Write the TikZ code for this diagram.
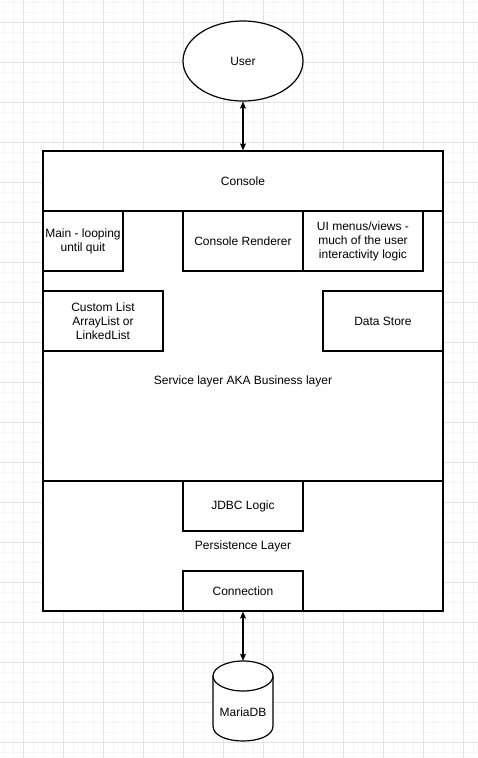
\documentclass[tikz,border=0pt]{standalone}
\usepackage{fontspec}
\setmainfont{Liberation Sans}
\usetikzlibrary{arrows.meta,shapes.geometric}
\newlength\pxu
\setlength\pxu{0.75pt}
\tikzset{
  minorgrid/.style={draw=black!3.5, line width=0.75pt},
  majorgrid/.style={draw=black!11, line width=0.75pt},
  box/.style={draw=black, line width=0.9pt, fill=white, inner sep=0pt, align=center, rectangle},
  lbl/.style={inner sep=0pt, align=center},
  link/.style={draw=black, line width=0.9pt, {Stealth[length=5.25pt,width=4.5pt,inset=1.1pt]}-{Stealth[length=5.25pt,width=4.5pt,inset=1.1pt]}},
}
\begin{document}
\begin{tikzpicture}[x=0.75pt, y=-0.75pt, font=\fontsize{9}{10.5}\selectfont]
\useasboundingbox (0,0) rectangle (478,758);
\fill[white] (0,0) rectangle (478,758);
% grid
\foreach \x in {3,13,...,473} \draw[minorgrid] (\x,0) -- (\x,758);
\foreach \y in {2,12,...,752} \draw[minorgrid] (0,\y) -- (478,\y);
\foreach \x in {23,63,...,463} \draw[majorgrid] (\x,0) -- (\x,758);
\foreach \y in {22,62,...,742} \draw[majorgrid] (0,\y) -- (478,\y);

% user
\node[ellipse, draw=black, line width=0.9pt, fill=white, minimum width=120\pxu, minimum height=80\pxu, inner sep=0pt] (user) at (243,61) {User};

% console
\node[box, minimum width=400\pxu, minimum height=60\pxu] (console) at (243,181) {Console};

% service layer (extends behind persistence layer)
\node[box, minimum width=400\pxu, minimum height=340\pxu] (service) at (243,381) {};
\node[lbl] (servicelbl) at (243,381) {Service layer AKA Business layer};

\node[box, minimum width=80\pxu, minimum height=60\pxu] (main) at (83,241) {Main - looping\\until quit};
\node[box, minimum width=120\pxu, minimum height=60\pxu] (renderer) at (243,241) {Console Renderer};
\node[box, minimum width=120\pxu, minimum height=60\pxu] (ui) at (363,241) {UI menus/views -\\much of the user\\interactivity logic};
\node[box, minimum width=120\pxu, minimum height=60\pxu] (list) at (103,321) {Custom List\\ArrayList or\\LinkedList};
\node[box, minimum width=120\pxu, minimum height=60\pxu] (store) at (383,321) {Data Store};

% persistence layer
\node[box, minimum width=400\pxu, minimum height=130\pxu] (persist) at (243,546) {Persistence Layer};
\node[box, minimum width=120\pxu, minimum height=50\pxu] (jdbc) at (243,506) {JDBC Logic};
\node[box, minimum width=120\pxu, minimum height=40\pxu] (conn) at (243,591) {Connection};

% database cylinder
\node[inner sep=0pt, minimum width=60\pxu, minimum height=80\pxu] (db) at (243,701) {};
\filldraw[fill=white, draw=black, line width=0.9pt] (213,676) -- (213,726) .. controls (213,746) and (273,746) .. (273,726) -- (273,676);
\filldraw[fill=white, draw=black, line width=0.9pt] (243,676) ellipse [x radius=30, y radius=15];
\node[lbl] (dblbl) at (243,712) {MariaDB};

% connectors
\draw[link] (user.south) -- (console.north);
\draw[link] (conn.south) -- (db.north);
\end{tikzpicture}
\end{document}
